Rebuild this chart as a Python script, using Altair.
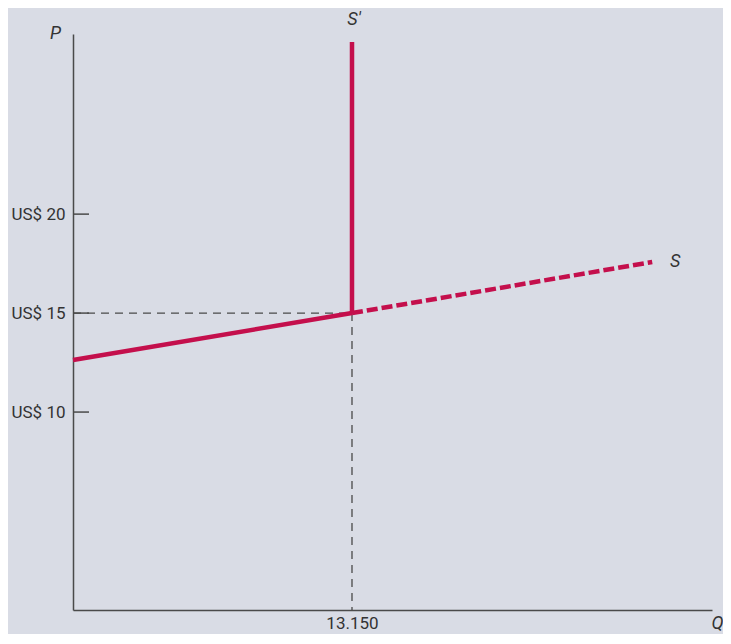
import altair as alt
import pandas as pd

# Supply curve S (solid up to the quota, dashed beyond)
q_solid = [0, 13150]
p_solid = [12.63, 15.0]
q_dash = [13150, 27300]
p_dash = [15.0, 17.58]
# Restricted supply S' (vertical at the quota)
q_vert = [13150, 13150]
p_vert = [15.0, 28.7]
# Reference point
q_ref = 13150
p_ref = 15.0
# Axis settings
y_ticks = [10, 15, 20]
x_ticks = [13150]
x_domain = [0, 30118]
y_domain = [0, 29.1]

RED = "#c40f4c"
GREY = "#4a4a4a"
FONT = "Roboto, 'Liberation Sans', sans-serif"

xs = alt.Scale(domain=x_domain, nice=False, zero=False)
ys = alt.Scale(domain=y_domain, nice=False, zero=False)

x_axis = alt.Axis(values=x_ticks, labelExpr="replace(format(datum.value, ','), ',', '.')",
                  ticks=False, grid=False, labelPadding=5, labelFontSize=17, labelColor="#333",
                  labelFont=FONT, domainColor=GREY, domainWidth=1.5,
                  title="Q", titleAngle=0, titleX=644, titleY=18, titleAlign="center",
                  titleBaseline="alphabetic", titleFontStyle="italic", titleFontWeight="normal",
                  titleFontSize=18, titleFont=FONT, titleColor="#333")
y_axis = alt.Axis(values=y_ticks, labelExpr="'US$ ' + datum.value",
                  ticks=False, grid=False, labelPadding=8, labelFontSize=17, labelColor="#333",
                  labelFont=FONT, domainColor=GREY, domainWidth=1.5,
                  title="P", titleAngle=0, titleX=-18, titleY=4, titleAlign="center",
                  titleBaseline="alphabetic", titleFontStyle="italic", titleFontWeight="normal",
                  titleFontSize=18, titleFont=FONT, titleColor="#333")

solid_df = pd.DataFrame({"q": q_solid, "p": p_solid})
dash_df = pd.DataFrame({"q": q_dash, "p": p_dash})
vert_df = pd.DataFrame({"q": q_vert, "p": p_vert})
ref_df = pd.DataFrame({"q": [q_ref], "p": [p_ref], "q0": [x_domain[0]], "p0": [y_domain[0]]})
tick_df = pd.DataFrame({"p": y_ticks})

base_x = alt.X("q:Q", scale=xs, axis=x_axis)
base_y = alt.Y("p:Q", scale=ys, axis=y_axis)

axes_layer = alt.Chart(solid_df).mark_point(opacity=0).encode(x=base_x, y=base_y)

ref_h = alt.Chart(ref_df).mark_rule(color=GREY, strokeWidth=1.3, strokeDash=[8, 6]).encode(
    x=alt.X("q0:Q", scale=xs), x2="q:Q", y=alt.Y("p:Q", scale=ys))
ref_v = alt.Chart(ref_df).mark_rule(color=GREY, strokeWidth=1.3, strokeDash=[8, 6]).encode(
    x=alt.X("q:Q", scale=xs), y=alt.Y("p:Q", scale=ys), y2="p0:Q")

ticks = alt.Chart(tick_df).mark_rule(color=GREY, strokeWidth=1.5).encode(
    x=alt.value(0), x2=alt.value(16), y=alt.Y("p:Q", scale=ys))

solid = alt.Chart(solid_df).mark_line(color=RED, strokeWidth=4.5).encode(
    x=alt.X("q:Q", scale=xs), y=alt.Y("p:Q", scale=ys))
dashed = alt.Chart(dash_df).mark_line(color=RED, strokeWidth=4.5, strokeDash=[11, 4]).encode(
    x=alt.X("q:Q", scale=xs), y=alt.Y("p:Q", scale=ys))
vert = alt.Chart(vert_df).mark_line(color=RED, strokeWidth=4.5).encode(
    x=alt.X("q:Q", scale=xs), y=alt.Y("p:Q", scale=ys))

s_label = alt.Chart(pd.DataFrame({"q": [q_dash[-1]], "p": [p_dash[-1]], "t": ["S"]})).mark_text(
    dx=23, dy=0, fontSize=18, fontStyle="italic", font=FONT, color="#333", baseline="middle").encode(
    x=alt.X("q:Q", scale=xs), y=alt.Y("p:Q", scale=ys), text="t:N")
sp_label = alt.Chart(pd.DataFrame({"q": [q_vert[-1]], "p": [p_vert[-1]], "t": ["S′"]})).mark_text(
    dx=2, dy=-22, fontSize=18, fontStyle="italic", font=FONT, color="#333", baseline="middle").encode(
    x=alt.X("q:Q", scale=xs), y=alt.Y("p:Q", scale=ys), text="t:N")

chart = alt.layer(axes_layer, ref_h, ref_v, ticks, solid, dashed, vert, s_label, sp_label).properties(
    width=639, height=576,
    autosize=alt.AutoSizeParams(type="none"),
    padding={"left": 65, "top": 26, "right": 11, "bottom": 24},
    background="#d9dce5",
).configure_view(stroke=None)

chart.save("out.html", embed_options={"renderer": "svg", "actions": False})
